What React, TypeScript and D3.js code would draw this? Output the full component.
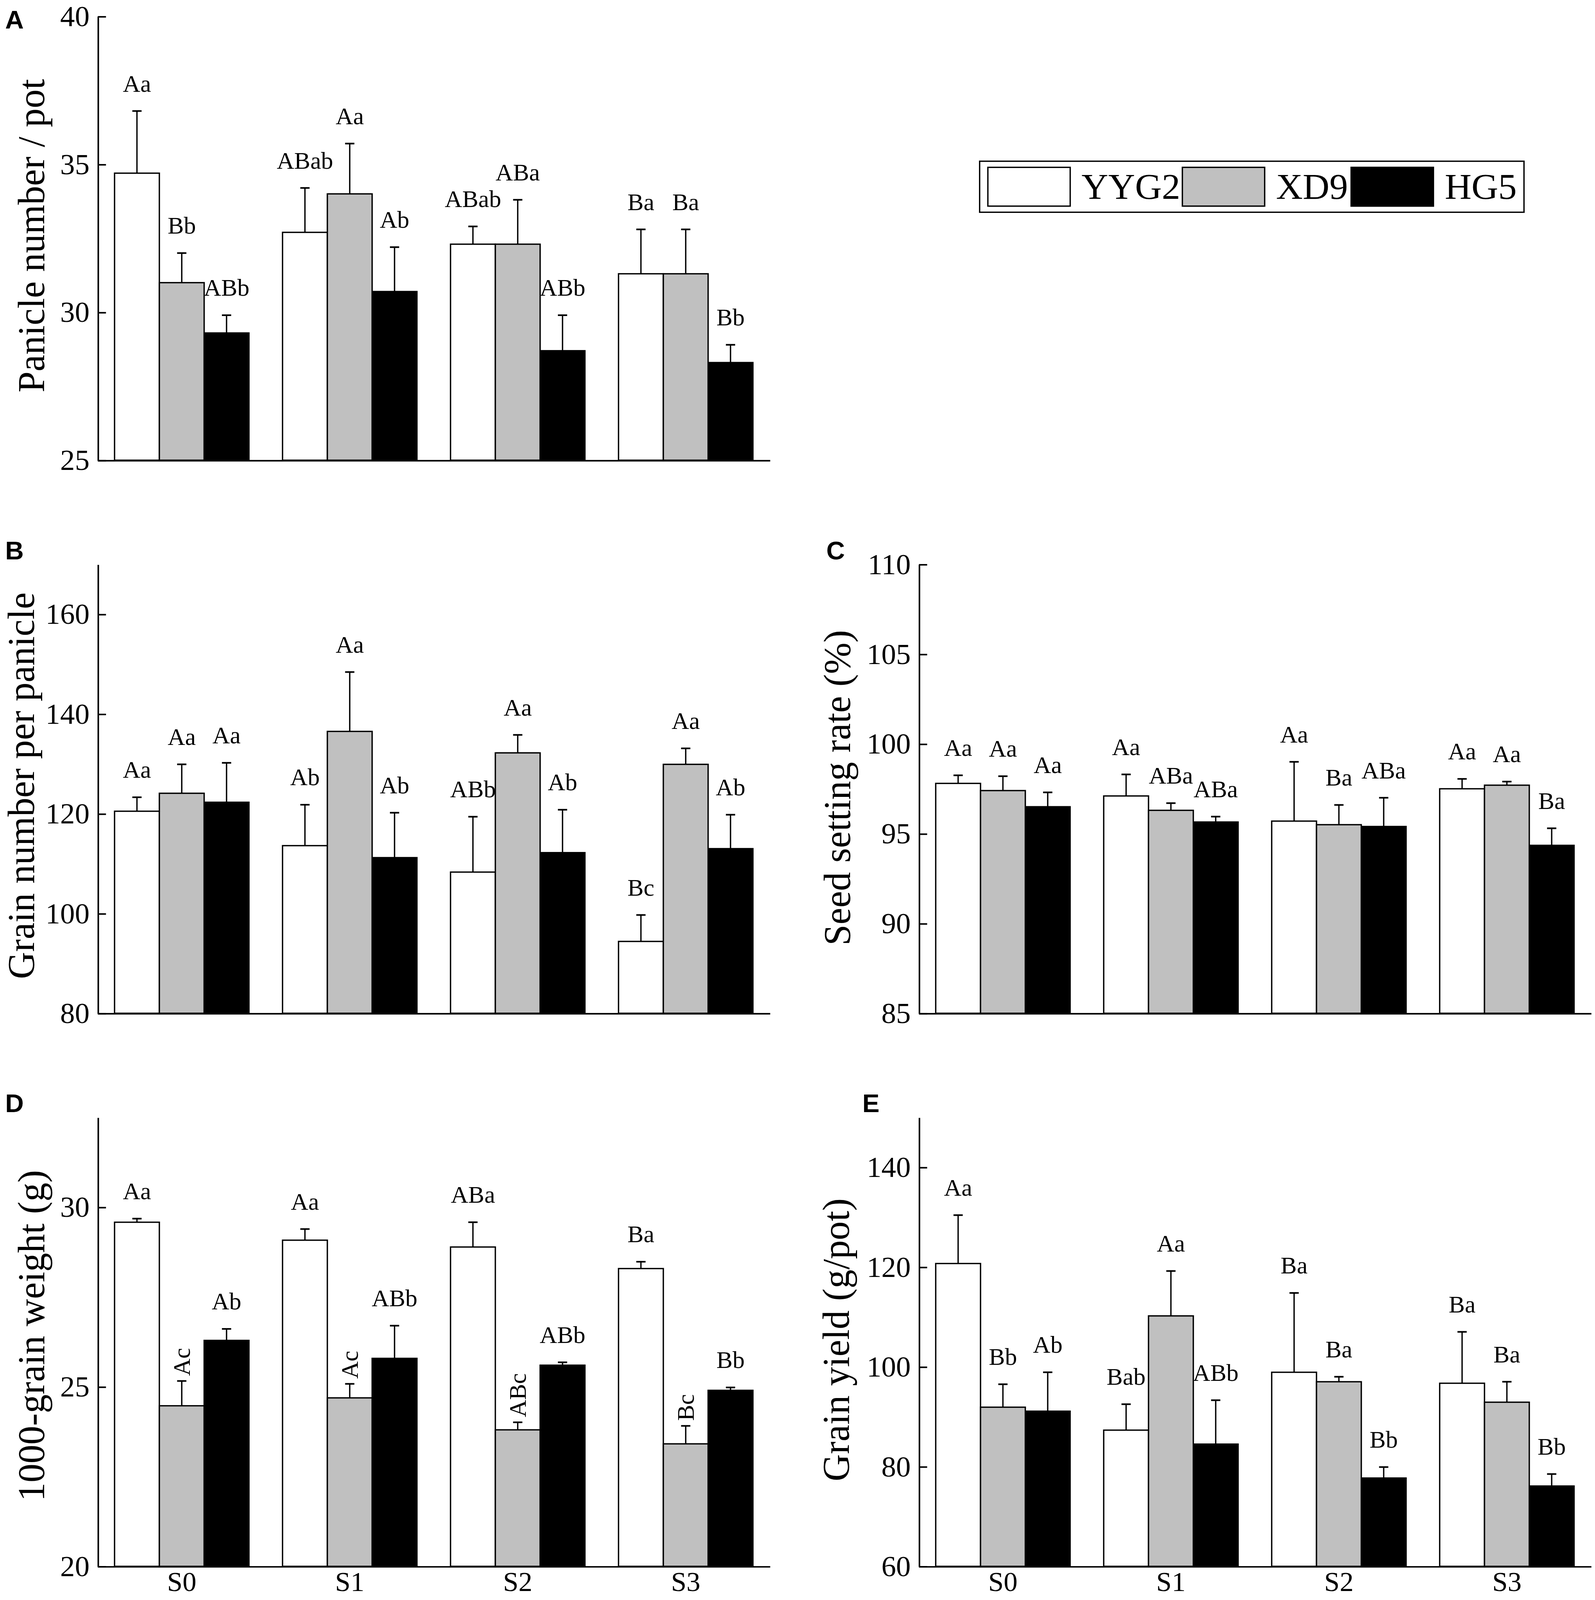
import React, { useEffect, useRef } from 'react';
import * as d3 from 'd3';

// treatments and cultivars
const groups = ['S0', 'S1', 'S2', 'S3'];
const cultivars = ['YYG2', 'XD9', 'HG5'];

// A: panicle number / pot  (rows = S0..S3, columns = YYG2, XD9, HG5)
const panicleMean = [
  [34.7, 31.0, 29.3],
  [32.7, 34.0, 30.7],
  [32.3, 32.3, 28.7],
  [31.3, 31.3, 28.3],
];
const panicleErr = [
  [2.1, 1.0, 0.6],
  [1.5, 1.7, 1.5],
  [0.6, 1.5, 1.2],
  [1.5, 1.5, 0.6],
];
const panicleLetters = [
  ['Aa', 'Bb', 'ABb'],
  ['ABab', 'Aa', 'Ab'],
  ['ABab', 'ABa', 'ABb'],
  ['Ba', 'Ba', 'Bb'],
];
const panicleTicks = [25, 30, 35, 40];

// B: grain number per panicle
const grainMean = [
  [120.5, 124.1, 122.3],
  [113.6, 136.5, 111.2],
  [108.3, 132.2, 112.2],
  [94.4, 129.9, 113.0],
];
const grainErr = [
  [2.8, 5.8, 7.9],
  [8.2, 11.9, 9.0],
  [11.1, 3.6, 8.6],
  [5.3, 3.2, 6.8],
];
const grainLetters = [
  ['Aa', 'Aa', 'Aa'],
  ['Ab', 'Aa', 'Ab'],
  ['ABb', 'Aa', 'Ab'],
  ['Bc', 'Aa', 'Ab'],
];
const grainTicks = [80, 100, 120, 140, 160];

// C: seed setting rate (%)
const seedMean = [
  [97.8, 97.4, 96.5],
  [97.1, 96.3, 95.65],
  [95.7, 95.5, 95.4],
  [97.5, 97.7, 94.35],
];
const seedErr = [
  [0.45, 0.8, 0.8],
  [1.2, 0.4, 0.3],
  [3.3, 1.1, 1.6],
  [0.55, 0.2, 0.95],
];
const seedLetters = [
  ['Aa', 'Aa', 'Aa'],
  ['Aa', 'ABa', 'ABa'],
  ['Aa', 'Ba', 'ABa'],
  ['Aa', 'Aa', 'Ba'],
];
const seedTicks = [85, 90, 95, 100, 105, 110];

// D: 1000-grain weight (g)
const weightMean = [
  [29.58, 24.47, 26.29],
  [29.08, 24.69, 25.79],
  [28.89, 23.8, 25.6],
  [28.29, 23.41, 24.9],
];
const weightErr = [
  [0.1, 0.69, 0.32],
  [0.31, 0.39, 0.91],
  [0.69, 0.21, 0.08],
  [0.19, 0.5, 0.08],
];
const weightLetters = [
  ['Aa', 'Ac', 'Ab'],
  ['Aa', 'Ac', 'ABb'],
  ['ABa', 'ABc', 'ABb'],
  ['Ba', 'Bc', 'Bb'],
];
const weightTicks = [20, 25, 30];

// E: grain yield (g/pot)
const yieldMean = [
  [120.7, 91.9, 91.1],
  [87.3, 110.2, 84.5],
  [98.9, 97.0, 77.7],
  [96.7, 92.9, 76.1],
];
const yieldErr = [
  [9.7, 4.6, 7.8],
  [5.2, 9.0, 8.8],
  [15.9, 1.0, 2.2],
  [10.3, 4.1, 2.4],
];
const yieldLetters = [
  ['Aa', 'Bb', 'Ab'],
  ['Bab', 'Aa', 'ABb'],
  ['Ba', 'Ba', 'Bb'],
  ['Ba', 'Ba', 'Bb'],
];
const yieldTicks = [60, 80, 100, 120, 140];

const fills = ['#ffffff', '#c0c0c0', '#000000'];
const serif = '"Liberation Serif", "Times New Roman", serif';
const sans = '"Liberation Sans", Arial, sans-serif';

// drawing units (the figure is laid out on a 1550 x 1568 grid)
const W = 1550;
const H = 1568;
const plotW = 653;

interface PanelProps {
  x0: number;
  y0: number;
  h: number;
  domain: [number, number];
  ticks: number[];
  means: number[][];
  errs: number[][];
  letters: string[][];
  title: string;
  titleX: number;
  titleY: number;
  tag: string;
  tagX: number;
  tagY: number;
  showGroups?: boolean;
  verticalSeries?: number;
}

const BarPanel: React.FC<PanelProps> = ({
  x0,
  y0,
  h,
  domain,
  ticks,
  means,
  errs,
  letters,
  title,
  titleX,
  titleY,
  tag,
  tagX,
  tagY,
  showGroups = false,
  verticalSeries = -1,
}) => {
  const yAxisRef = useRef<SVGGElement>(null);
  const xAxisRef = useRef<SVGGElement>(null);

  const x = d3
    .scaleBand()
    .domain(groups)
    .range([0, plotW])
    .paddingInner(0.2)
    .paddingOuter(0.1);
  const xs = d3.scaleBand().domain(cultivars).range([0, x.bandwidth()]);
  const y = d3.scaleLinear().domain(domain).range([h, 0]);

  useEffect(() => {
    if (!yAxisRef.current || !xAxisRef.current) return;

    const ya = d3.select(yAxisRef.current);
    ya.selectAll('*').remove();
    ya.call(
      d3
        .axisLeft(y)
        .tickValues(ticks)
        .tickSizeInner(-8)
        .tickSizeOuter(0)
        .tickPadding(8)
    );
    ya.attr('font-family', serif).attr('font-size', 28.5);
    ya.selectAll('path, line').attr('stroke', '#000').attr('stroke-width', 1.5);

    const xa = d3.select(xAxisRef.current);
    xa.selectAll('*').remove();
    xa.call(
      d3
        .axisBottom(x)
        .tickSize(0)
        .tickPadding(5)
        .tickFormat(d => (showGroups ? String(d) : ''))
    );
    xa.attr('font-family', serif).attr('font-size', 27);
    xa.selectAll('path').attr('stroke', '#000').attr('stroke-width', 1.5);
  }, [domain, ticks, showGroups, h]);

  return (
    <g>
      <text x={tagX} y={tagY} fontFamily={sans} fontWeight="bold" fontSize={25}>
        {tag}
      </text>
      <text
        transform={`translate(${titleX},${titleY}) rotate(-90)`}
        textAnchor="middle"
        fontFamily={serif}
        fontSize={37}
      >
        {title}
      </text>
      <g transform={`translate(${x0},${y0})`}>
        {groups.map((g, gi) =>
          cultivars.map((c, ci) => {
            const bx = (x(g) || 0) + (xs(c) || 0);
            const cx = bx + xs.bandwidth() / 2;
            const top = y(means[gi][ci]);
            const errTop = y(means[gi][ci] + errs[gi][ci]);
            const vertical = ci === verticalSeries;
            return (
              <g key={`${g}-${c}`}>
                <rect
                  x={bx}
                  y={top}
                  width={xs.bandwidth()}
                  height={h - top}
                  fill={fills[ci]}
                  stroke="#000"
                  strokeWidth={1.3}
                />
                <line x1={cx} x2={cx} y1={top} y2={errTop} stroke="#000" strokeWidth={1.3} />
                <line x1={cx - 4.5} x2={cx + 4.5} y1={errTop} y2={errTop} stroke="#000" strokeWidth={1.6} />
                {vertical ? (
                  <text
                    transform={`translate(${cx + 8},${errTop - 5}) rotate(-90)`}
                    fontFamily={serif}
                    fontSize={23.5}
                  >
                    {letters[gi][ci]}
                  </text>
                ) : (
                  <text
                    x={cx}
                    y={errTop - 19}
                    textAnchor="middle"
                    fontFamily={serif}
                    fontSize={23.5}
                  >
                    {letters[gi][ci]}
                  </text>
                )}
              </g>
            );
          })
        )}
        <g ref={xAxisRef} transform={`translate(0,${h})`} />
        <g ref={yAxisRef} />
      </g>
    </g>
  );
};

const legendOffsets = [8, 197, 361];

const Legend: React.FC = () => (
  <g transform="translate(952,158)">
    <rect x={0} y={0} width={529} height={50} fill="#fff" stroke="#000" strokeWidth={1.3} />
    {cultivars.map((c, i) => (
      <g key={c} transform={`translate(${legendOffsets[i]},6)`}>
        <rect x={0} y={0} width={80} height={38} fill={fills[i]} stroke="#000" strokeWidth={1.3} />
        <text x={91} y={31} fontFamily={serif} fontSize={36}>
          {c}
        </text>
      </g>
    ))}
  </g>
);

export default function App() {
  useEffect(() => {
    document.body.style.margin = '0';
  }, []);

  return (
    <svg
      width={4083}
      height={4096}
      viewBox={`0 0 ${W} ${H}`}
      preserveAspectRatio="none"
      style={{ display: 'block', background: '#fff' }}
    >
      <rect x={0} y={0} width={W} height={H} fill="#fff" />
      <BarPanel
        x0={95}
        y0={16}
        h={435}
        domain={[25, 40]}
        ticks={panicleTicks}
        means={panicleMean}
        errs={panicleErr}
        letters={panicleLetters}
        title="Panicle number / pot"
        titleX={43}
        titleY={231}
        tag="A"
        tagX={5}
        tagY={28}
      />
      <Legend />
      <BarPanel
        x0={95}
        y0={553}
        h={440}
        domain={[80, 170]}
        ticks={grainTicks}
        means={grainMean}
        errs={grainErr}
        letters={grainLetters}
        title="Grain number per panicle"
        titleX={33}
        titleY={770}
        tag="B"
        tagX={5}
        tagY={548}
      />
      <BarPanel
        x0={893}
        y0={553}
        h={440}
        domain={[85, 110]}
        ticks={seedTicks}
        means={seedMean}
        errs={seedErr}
        letters={seedLetters}
        title="Seed setting rate (%)"
        titleX={826}
        titleY={772}
        tag="C"
        tagX={803}
        tagY={548}
      />
      <BarPanel
        x0={95}
        y0={1095}
        h={440}
        domain={[20, 32.5]}
        ticks={weightTicks}
        means={weightMean}
        errs={weightErr}
        letters={weightLetters}
        title="1000-grain weight (g)"
        titleX={43}
        titleY={1309}
        tag="D"
        tagX={5}
        tagY={1090}
        showGroups
        verticalSeries={1}
      />
      <BarPanel
        x0={893}
        y0={1095}
        h={440}
        domain={[60, 150]}
        ticks={yieldTicks}
        means={yieldMean}
        errs={yieldErr}
        letters={yieldLetters}
        title="Grain yield (g/pot)"
        titleX={825}
        titleY={1313}
        tag="E"
        tagX={838}
        tagY={1090}
        showGroups
      />
    </svg>
  );
}
